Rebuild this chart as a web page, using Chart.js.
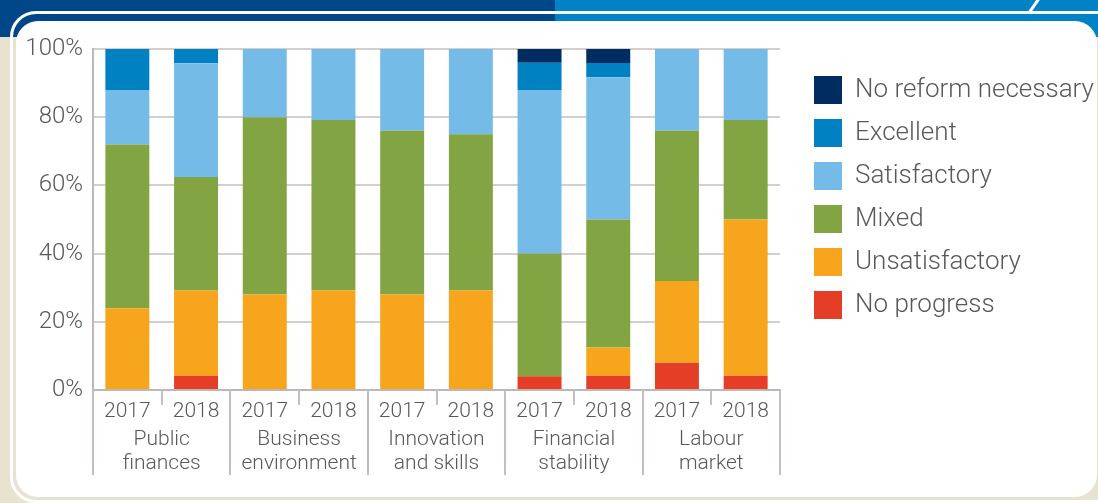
<!DOCTYPE html>
<html lang="en">

<head>
  <title></title>
  <meta charset="UTF-8">
  <script src="https://cdn.jsdelivr.net/npm/chart.js@4.4.1/dist/chart.umd.min.js"></script>
  <style>
    html, body { margin: 0; padding: 0; }
    body { width: 1098px; height: 503px; background: #e8e2d0; position: relative; overflow: hidden; }
    .band { position: absolute; top: 0; height: 37px; }
    .band.dark { left: 0; width: 555px; background: #00478a; }
    .band.light { left: 555px; width: 543px; background: #0083c5; }
    .slash { position: absolute; left: 1033px; top: -4px; width: 3px; height: 18px; background: #fff; transform: rotate(35deg); }
    .outline { position: absolute; left: 10px; top: 11px; width: 1110px; height: 486px; border: 3px solid #fff; border-radius: 26px; }
    .panel { position: absolute; left: 16px; top: 21px; width: 1081px; height: 476px; background: #fff; border-radius: 22px; }
    #chartBox { position: absolute; left: 0; top: 0; width: 1098px; height: 503px; }
  </style>
</head>

<body>
  <div class="band dark"></div>
  <div class="band light"></div>
  <div class="slash"></div>
  <div class="outline"></div>
  <div class="panel"></div>
  <div id="chartBox"><canvas id="myChart" width="1098" height="503"></canvas></div>
  <script>
    const years = ["2017", "2018", "2017", "2018", "2017", "2018", "2017", "2018", "2017", "2018"];
    const groups = [["Public", "finances"], ["Business", "environment"], ["Innovation", "and skills"], ["Financial", "stability"], ["Labour", "market"]];
    const yTicks = [0, 20, 40, 60, 80, 100];

    // shares in % (25 assessments in 2017, 24 in 2018)
    const noProgress     = [0, 4.2, 0, 0, 0, 0, 4, 4.2, 8, 4.2];
    const unsatisfactory = [24, 25, 28, 29.2, 28, 29.2, 0, 8.3, 24, 45.8];
    const mixed          = [48, 33.3, 52, 50, 48, 45.8, 36, 37.5, 44, 29.2];
    const satisfactory   = [16, 33.3, 20, 20.8, 24, 25, 48, 41.7, 24, 20.8];
    const excellent      = [12, 4.2, 0, 0, 0, 0, 8, 4.2, 0, 0];
    const noReform       = [0, 0, 0, 0, 0, 0, 4, 4.1, 0, 0];

    const textColor = "#58595b";
    const fontFamily = "Roboto, 'DejaVu Sans', sans-serif";

    // separators under the x axis: short between years, long between groups
    const separators = {
      id: "separators",
      afterDraw(chart) {
        const x = chart.scales.x;
        const ctx = chart.ctx;
        const top = chart.chartArea.bottom;
        ctx.save();
        ctx.strokeStyle = "#c6bebc";
        ctx.lineWidth = 2;
        for (let i = 0; i <= years.length; i++) {
          const px = Math.round(x.getPixelForValue(i - 0.5));
          const len = i % 2 === 0 ? 85 : 15;
          ctx.beginPath();
          ctx.moveTo(px, top);
          ctx.lineTo(px, top + len);
          ctx.stroke();
        }
        ctx.restore();
      }
    };

    new Chart("myChart", {
      type: "bar",
      data: {
        labels: years,
        datasets: [
          { label: "No progress", data: noProgress, backgroundColor: "#e53e26" },
          { label: "Unsatisfactory", data: unsatisfactory, backgroundColor: "#f6a51d" },
          { label: "Mixed", data: mixed, backgroundColor: "#82a442" },
          { label: "Satisfactory", data: satisfactory, backgroundColor: "#74bce7" },
          { label: "Excellent", data: excellent, backgroundColor: "#0082c2" },
          { label: "No reform necessary", data: noReform, backgroundColor: "#002c62" }
        ]
      },
      plugins: [separators],
      options: {
        responsive: false,
        animation: false,
        datasets: { bar: { barPercentage: 0.64, categoryPercentage: 1, borderWidth: 0 } },
        layout: { padding: { top: 49, left: 0, right: 0, bottom: 27 } },
        plugins: {
          tooltip: { enabled: false },
          legend: {
            position: "right",
            align: "start",
            reverse: true,
            maxWidth: 299,
            title: { display: true, text: "", font: { size: 10 }, padding: 0 },
            labels: {
              boxWidth: 28,
              boxHeight: 28,
              padding: 15,
              color: textColor,
              font: { family: fontFamily, size: 26, weight: 300 }
            }
          }
        },
        scales: {
          x: {
            stacked: true,
            grid: { display: false },
            border: { display: true, color: "#bfb7b5", width: 2 },
            ticks: { color: textColor, padding: 1, font: { family: fontFamily, size: 21, weight: 300 } },
            afterFit: (s) => { s.height = 29; }
          },
          x2: {
            type: "category",
            position: "bottom",
            labels: groups,
            offset: true,
            grid: { display: false },
            border: { display: false },
            ticks: { color: textColor, padding: 0, font: { family: fontFamily, size: 21, weight: 300, lineHeight: 1.18 } },
            afterFit: (s) => { s.height = 57; }
          },
          y: {
            stacked: true,
            min: 0,
            max: 100,
            grid: { color: "#d4cecd", lineWidth: 2, drawTicks: false },
            border: { display: true, color: "#bfb7b5", width: 2 },
            ticks: {
              color: textColor,
              padding: 10,
              font: { family: fontFamily, size: 24, weight: 300 },
              callback: (v) => v + "%"
            },
            afterBuildTicks: (scale) => { scale.ticks = yTicks.map(v => ({ value: v })); },
            afterFit: (s) => { s.width = 93; }
          },
          yr: {
            type: "linear",
            position: "right",
            grid: { display: false },
            border: { display: false },
            ticks: { display: false },
            afterFit: (s) => { s.width = 19; }
          }
        }
      }
    });
  </script>
</body>

</html>
